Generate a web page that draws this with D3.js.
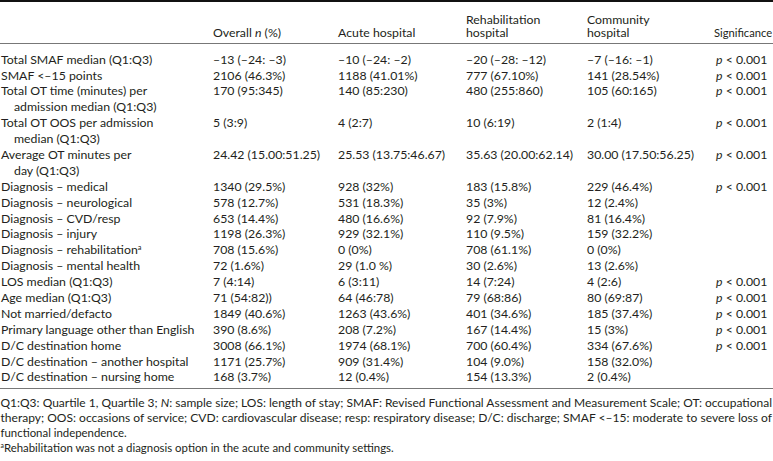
<!DOCTYPE html>
<html><head><meta charset="utf-8">
<script src="https://cdn.jsdelivr.net/npm/d3@7"></script>
<style>body{margin:0;background:#fff}svg{display:block}</style>
</head><body>
<script>
// ---- data ----
const columns = ["Overall n (%)", "Acute hospital", "Rehabilitation hospital", "Community hospital", "Significance"];
const rowLabels = [
  ["Total SMAF median (Q1:Q3)"],
  ["SMAF <–15 points"],
  ["Total OT time (minutes) per", "admission median (Q1:Q3)"],
  ["Total OT OOS per admission", "median (Q1:Q3)"],
  ["Average OT minutes per", "day (Q1:Q3)"],
  ["Diagnosis – medical"],
  ["Diagnosis – neurological"],
  ["Diagnosis – CVD/resp"],
  ["Diagnosis – injury"],
  ["Diagnosis – rehabilitation^a"],
  ["Diagnosis – mental health"],
  ["LOS median (Q1:Q3)"],
  ["Age median (Q1:Q3)"],
  ["Not married/defacto"],
  ["Primary language other than English"],
  ["D/C destination home"],
  ["D/C destination – another hospital"],
  ["D/C destination – nursing home"]
];
const overall = ["–13 (–24: –3)","2106 (46.3%)","170 (95:345)","5 (3:9)","24.42 (15.00:51.25)","1340 (29.5%)","578 (12.7%)","653 (14.4%)","1198 (26.3%)","708 (15.6%)","72 (1.6%)","7 (4:14)","71 (54:82))","1849 (40.6%)","390 (8.6%)","3008 (66.1%)","1171 (25.7%)","168 (3.7%)"];
const acute = ["–10 (–24: –2)","1188 (41.01%)","140 (85:230)","4 (2:7)","25.53 (13.75:46.67)","928 (32%)","531 (18.3%)","480 (16.6%)","929 (32.1%)","0 (0%)","29 (1.0 %)","6 (3:11)","64 (46:78)","1263 (43.6%)","208 (7.2%)","1974 (68.1%)","909 (31.4%)","12 (0.4%)"];
const rehab = ["–20 (–28: –12)","777 (67.10%)","480 (255:860)","10 (6:19)","35.63 (20.00:62.14)","183 (15.8%)","35 (3%)","92 (7.9%)","110 (9.5%)","708 (61.1%)","30 (2.6%)","14 (7:24)","79 (68:86)","401 (34.6%)","167 (14.4%)","700 (60.4%)","104 (9.0%)","154 (13.3%)"];
const community = ["–7 (–16: –1)","141 (28.54%)","105 (60:165)","2 (1:4)","30.00 (17.50:56.25)","229 (46.4%)","12 (2.4%)","81 (16.4%)","159 (32.2%)","0 (0%)","13 (2.6%)","4 (2:6)","80 (69:87)","185 (37.4%)","15 (3%)","334 (67.6%)","158 (32.0%)","2 (0.4%)"];
const significance = ["p < 0.001","p < 0.001","p < 0.001","p < 0.001","p < 0.001","p < 0.001","","","","","","p < 0.001","p < 0.001","p < 0.001","p < 0.001","p < 0.001","",""];
const footnotes = [
  "Q1:Q3: Quartile 1, Quartile 3; _N_: sample size; LOS: length of stay; SMAF: Revised Functional Assessment and Measurement Scale; OT: occupational",
  "therapy; OOS: occasions of service; CVD: cardiovascular disease; resp: respiratory disease; D/C: discharge; SMAF <–15: moderate to severe loss of",
  "functional independence.",
  "^a^Rehabilitation was not a diagnosis option in the acute and community settings."
];

// ---- layout ----
const W = 773, H = 461;
const font = "Lato, 'Open Sans', sans-serif";
const fs = 12.3;
const color = "#231f20";
const svg = d3.select("body").append("svg").attr("width", W).attr("height", H)
  .style("font-family", font).style("font-size", fs + "px").attr("fill", color);

const colX = d3.scaleOrdinal().domain(["label", ...columns]).range([1, 213, 338, 466, 587, 716]);

let idx = 0;
const rowStart = rowLabels.map(r => { const s = idx; idx += r.length; return s; });
const nLines = idx;
const y = d3.scaleLinear().domain([0, nLines - 1]).range([59.3, 377]);

function sup(sel, txt) {
  sel.append("tspan").attr("baseline-shift", "super").attr("font-size", "0.6em").text(txt);
}
function rich(sel, str) {
  const parts = str.split(/(_[^_]+_|\^[^^]+\^)/).filter(s => s.length);
  parts.forEach(p => {
    if (p.startsWith("_")) sel.append("tspan").attr("font-style", "italic").text(p.slice(1, -1));
    else if (p.startsWith("^")) sup(sel, p.slice(1, -1));
    else sel.append("tspan").text(p);
  });
}
function richLabel(sel, str) {
  const m = str.match(/^(.*)\^(\w)$/);
  if (m) { sel.append("tspan").text(m[1]); sup(sel, m[2]); }
  else sel.text(str);
}

// rules
svg.append("line").attr("x1", 0).attr("x2", W).attr("y1", 1).attr("y2", 1).attr("stroke", "#111").attr("stroke-width", 1.8);
svg.append("line").attr("x1", 0).attr("x2", W).attr("y1", 43.5).attr("y2", 43.5).attr("stroke", "#777").attr("stroke-width", 1);
svg.append("line").attr("x1", 0).attr("x2", W).attr("y1", 388.5).attr("y2", 388.5).attr("stroke", "#777").attr("stroke-width", 1);

// header
const headerLines = {
  "Overall n (%)": ["Overall _n_ (%)"],
  "Acute hospital": ["Acute hospital"],
  "Rehabilitation hospital": ["Rehabilitation", "hospital"],
  "Community hospital": ["Community", "hospital"],
  "Significance": ["Significance"]
};
columns.forEach(c => {
  const lines = headerLines[c];
  lines.forEach((ln, i) => {
    const yy = lines.length === 2 ? (i === 0 ? 19.3 : 32.5) : 32.5;
    const t = svg.append("text").attr("x", colX(c) - (c === "Significance" ? 2 : 0)).attr("y", yy).attr("dy", "0.36em");
    rich(t, ln);
    if (c === "Significance") t.style("font-size", "11.2px");
  });
});

// body
rowLabels.forEach((lab, r) => {
  lab.forEach((ln, i) => {
    const t = svg.append("text").attr("x", colX("label") + (i > 0 ? 13 : 0)).attr("y", y(rowStart[r] + i)).attr("dy", "0.36em");
    richLabel(t, ln);
  });
  const vals = [overall[r], acute[r], rehab[r], community[r]];
  vals.forEach((v, j) => {
    svg.append("text").attr("x", colX(columns[j])).attr("y", y(rowStart[r])).attr("dy", "0.36em").text(v);
  });
  if (significance[r]) {
    const t = svg.append("text").attr("x", colX(columns[4])).attr("y", y(rowStart[r])).attr("dy", "0.36em");
    t.append("tspan").attr("font-style", "italic").text("p");
    t.append("tspan").text(significance[r].slice(1));
  }
});

// footnotes
const fy = d3.scaleLinear().domain([0, 3]).range([402.5, 447.5]);
footnotes.forEach((f, i) => {
  const t = svg.append("text").attr("x", 0.5).attr("y", fy(i)).attr("dy", "0.36em").style("font-size", "11.4px");
  if (i < 2) t.attr("textLength", W - 1.5).attr("lengthAdjust", "spacingAndGlyphs");
  rich(t, f);
});
</script>
</body></html>
